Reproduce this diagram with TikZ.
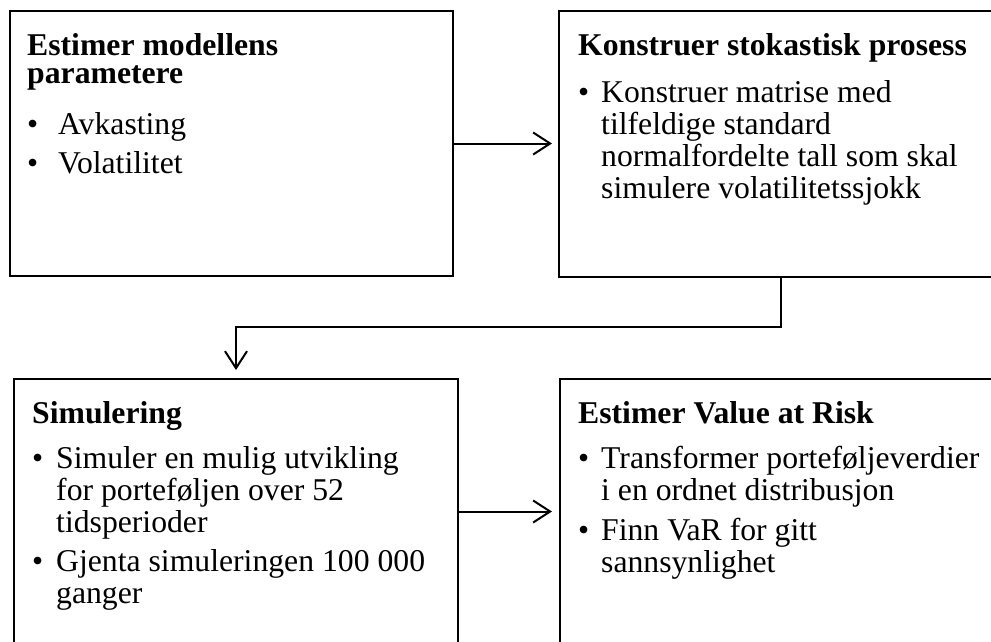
\documentclass[tikz,border=0pt]{standalone}
\usepackage{fontspec}
\setmainfont{Liberation Serif}
\usetikzlibrary{arrows.meta}
\newcommand\bul[1]{\makebox[#1][l]{•}}
\newcommand\txtsize{\fontsize{31.7}{32}\selectfont}
\begin{document}
\begin{tikzpicture}[x=1pt,y=-1pt,
  boxst/.style={draw, line width=2pt, anchor=north west, inner sep=0pt},
  txt/.style={inner sep=0pt, anchor=base west},
  arr/.style={-{Straight Barb[length=17pt,width=22pt]}, line width=2pt}]
\clip (0,0) rectangle (991,641);
% boxes
\node[boxst, minimum width=443pt, minimum height=265pt] (b1) at (9,10) {};
\node[boxst, minimum width=443pt, minimum height=266pt] (b2) at (558,10) {};
\node[boxst, minimum width=444pt, minimum height=265pt] (b3) at (13,378) {};
\node[boxst, minimum width=443pt, minimum height=265pt] (b4) at (559,378) {};
% texts
\node[txt] (t1) at (27,55) {\parbox[t]{420pt}{\txtsize\bfseries Estimer modellens\\[-4pt]parametere\\[19pt]\mdseries\bul{31pt}Avkasting\\[7pt]\bul{31pt}Volatilitet}};
\node[txt] (t2) at (578,55) {\parbox[t]{420pt}{\txtsize\bfseries Konstruer stokastisk prosess\\[15pt]\mdseries\bul{23pt}Konstruer matrise med\\\hspace*{23pt}tilfeldige standard\\\hspace*{23pt}normalfordelte tall som skal\\\hspace*{23pt}simulere volatilitetssjokk}};
\node[txt] (t3) at (32,423) {\parbox[t]{420pt}{\txtsize\bfseries Simulering\\[13pt]\mdseries\bul{24pt}Simuler en mulig utvikling\\\hspace*{24pt}for porteføljen over 52\\\hspace*{24pt}tidsperioder\\[7pt]\bul{24pt}Gjenta simuleringen 100 000\\\hspace*{24pt}ganger}};
\node[txt] (t4) at (578,423) {\parbox[t]{420pt}{\txtsize\bfseries Estimer Value at Risk\\[13pt]\mdseries\bul{23pt}Transformer porteføljeverdier\\\hspace*{23pt}i en ordnet distribusjon\\[8pt]\bul{23pt}Finn VaR for gitt\\\hspace*{23pt}sannsynlighet}};
% connectors
\draw[arr, shorten >=6pt] (b1.east) -- (b1.east -| b2.west);
\draw[arr, shorten >=8pt] (b2.south) -- (b2.south |- 0,327) -| (b3.north);
\draw[arr, shorten >=7pt] (b3.east) -- (b3.east -| b4.west);
\end{tikzpicture}
\end{document}
